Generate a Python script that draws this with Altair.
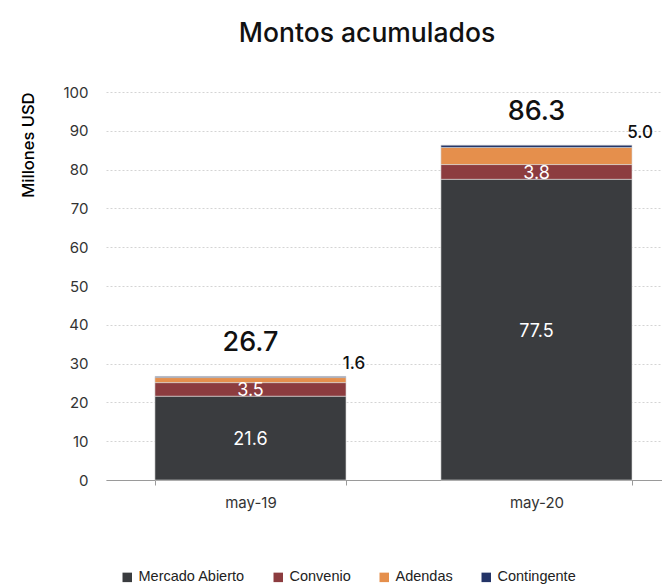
import altair as alt
import pandas as pd

categories = ["may-19", "may-20"]
series = ["Mercado Abierto", "Convenio", "Adendas", "Contingente"]
mercado_abierto = [21.6, 77.5]
convenio = [3.5, 3.8]
adendas = [1.3, 4.4]
contingente = [0.3, 0.6]
totals = [26.7, 86.3]
top_labels = [1.6, 5.0]
y_ticks = [0, 10, 20, 30, 40, 50, 60, 70, 80, 90, 100]

colors = ["#3a3c3f", "#8c3c3f", "#e58f4c", "#233467"]
FONT = "Inter"

rows = []
for i, c in enumerate(categories):
    for k, (s, vals) in enumerate(zip(series, [mercado_abierto, convenio, adendas, contingente])):
        rows.append({"cat": c, "series": s, "value": vals[i], "order": k})
df = pd.DataFrame(rows)
tot = pd.DataFrame({"cat": categories, "total": totals, "top": top_labels})

xscale = alt.Scale(domain=categories, paddingInner=0.332, paddingOuter=0.138, align=0.62)
yscale = alt.Scale(domain=[0, 100])

xaxis = alt.Axis(title=None, labelAngle=0, labelFontSize=15, labelColor="#333333",
                 labelFont=FONT, labelPadding=10, tickBand="extent", tickSize=5,
                 tickColor="#9a9a9a", domainColor="#9a9a9a", grid=False)
yaxis = alt.Axis(values=y_ticks, title="Millones USD", titleFontSize=16.5,
                 titleFont=FONT, titleFontWeight=500, titleColor="#000000",
                 titleAnchor="end", titlePadding=26, labelFontSize=15, labelColor="#333333",
                 labelFont=FONT, labelPadding=18, ticks=False, domain=False,
                 labelOverlap=False,
                 grid=True, gridColor="#d4d4d4", gridDash=[2, 2])

bars = alt.Chart(df).mark_bar(stroke="#d8d8d8", strokeWidth=0.6).encode(
    x=alt.X("cat:N", scale=xscale, sort=categories, axis=xaxis),
    y=alt.Y("value:Q", stack="zero", scale=yscale, axis=yaxis),
    color=alt.Color("series:N", scale=alt.Scale(domain=series, range=colors),
                    legend=alt.Legend(title=None, orient="none", direction="horizontal",
                                      legendX=14, legendY=478, symbolType="square",
                                      symbolSize=90, symbolStrokeWidth=0,
                                      labelFont="Liberation Sans", labelFontSize=14.5,
                                      labelColor="#222222", columnPadding=26,
                                      labelOffset=4)),
    order=alt.Order("order:Q"),
)

seg_labels = alt.Chart(df).transform_stack(
    stack="value", groupby=["cat"], as_=["y0", "y1"], sort=[alt.SortField("order")]
).transform_calculate(
    mid="(datum.y0 + datum.y1) / 2"
).transform_filter(
    "datum.order < 2"
).mark_text(color="white", fontSize=18, font=FONT, fontWeight=400, baseline="middle", dy=2).encode(
    x=alt.X("cat:N", scale=xscale, sort=categories, axis=xaxis),
    y=alt.Y("mid:Q", scale=yscale, axis=yaxis),
    text=alt.Text("value:Q", format=".1f"),
)

total_labels = alt.Chart(tot).mark_text(
    fontSize=27, font=FONT, fontWeight=500, color="#111111", baseline="middle", dy=-33
).encode(
    x=alt.X("cat:N", scale=xscale, sort=categories, axis=xaxis),
    y=alt.Y("total:Q", scale=yscale, axis=yaxis),
    text=alt.Text("total:Q", format=".1f"),
)

top_text = alt.Chart(tot).mark_text(
    fontSize=17, font=FONT, fontWeight=500, color="#111111", baseline="middle", dy=-12, dx=8
).encode(
    x=alt.X("cat:N", scale=xscale, sort=categories, bandPosition=1, axis=xaxis),
    y=alt.Y("total:Q", scale=yscale, axis=yaxis),
    text=alt.Text("top:Q", format=".1f"),
)

chart = alt.layer(bars, seg_labels, total_labels, top_text).properties(
    width=556, height=388,
    padding={"left": 12, "top": 12, "right": 0, "bottom": 0},
    title=alt.Title("Montos acumulados", fontSize=26.5, font=FONT, fontWeight=500,
                    color="#111111", offset=38, dx=-17),
).configure_view(stroke=None)

chart.save("out.html", embed_options={"renderer": "svg", "actions": False})
